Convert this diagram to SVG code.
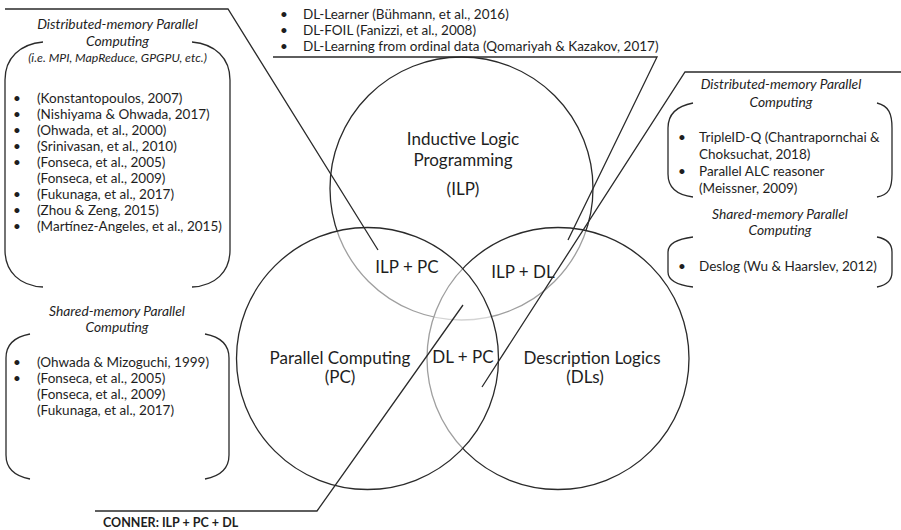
<svg xmlns="http://www.w3.org/2000/svg" width="901" height="530" viewBox="0 0 901 530">
<style>
.c{fill:#fff;fill-opacity:0.55;stroke:#2a2a2a;stroke-width:1.3}
.ln{fill:none;stroke:#2a2a2a;stroke-width:1.3}
.br{fill:none;stroke:#2a2a2a;stroke-width:1.3}
text{font-family:Lato,"Open Sans",sans-serif;fill:#1e1e1e}
.s{font-size:13.5px}
.i{font-style:italic;font-size:13.8px;text-anchor:middle}
.ii{font-style:italic;font-size:12.3px;text-anchor:middle}
.b{font-size:17px;text-anchor:middle}
.bold{font-weight:bold;font-size:12.5px}
</style>
<rect width="901" height="530" fill="#fff"/>
<g id="circles">
<g id="ilp"><circle class="c" cx="461.5" cy="188.5" r="131.5"/></g>
<g id="dl"><circle class="c" cx="558" cy="358.5" r="131"/></g>
<g id="pc"><circle class="c" cx="367.5" cy="358.5" r="131"/></g>
</g>
<g id="circle-labels">
<text class="b" x="463" y="145">Inductive Logic</text>
<text class="b" x="463" y="166">Programming</text>
<text class="b" x="463" y="195">(ILP)</text>
<text class="b" x="407" y="273">ILP + PC</text>
<text class="b" x="523" y="278">ILP + DL</text>
<text class="b" x="340" y="364">Parallel Computing</text>
<text class="b" x="340" y="383">(PC)</text>
<text class="b" x="463" y="363">DL + PC</text>
<text class="b" x="592" y="364">Description Logics</text>
<text class="b" x="585" y="383">(DLs)</text>
</g>
<g id="connectors">
<polyline class="ln" points="5,9 228,9 378,250"/>
<polyline class="ln" points="273,57 657,57 568,240"/>
<polyline class="ln" points="901,72 685,72 482,387"/>
<polyline class="ln" points="95,511 317,511 463,305"/>
</g>
<g id="box-ilp-pc-dist">
<path class="br" d="M43,42 C20,44 5,58 5,80 V250 C5,272 20,286 43,287"/>
<path class="br" d="M192,42 C215,44 230,58 230,80 V250 C230,272 215,286 192,287"/>
<text class="i" x="117.5" y="29">Distributed-memory Parallel</text>
<text class="i" x="117.5" y="46">Computing</text>
<text class="ii" x="117.5" y="62">(i.e. MPI, MapReduce, GPGPU, etc.)</text>
<g class="s">
<text x="13" y="103">•</text><text x="37" y="103">(Konstantopoulos, 2007)</text>
<text x="13" y="119">•</text><text x="37" y="119">(Nishiyama &amp; Ohwada, 2017)</text>
<text x="13" y="135">•</text><text x="37" y="135">(Ohwada, et al., 2000)</text>
<text x="13" y="151">•</text><text x="37" y="151">(Srinivasan, et al., 2010)</text>
<text x="13" y="167">•</text><text x="37" y="167">(Fonseca, et al., 2005)</text>
<text x="37" y="183">(Fonseca, et al., 2009)</text>
<text x="13" y="199">•</text><text x="37" y="199">(Fukunaga, et al., 2017)</text>
<text x="13" y="215">•</text><text x="37" y="215">(Zhou &amp; Zeng, 2015)</text>
<text x="13" y="231">•</text><text x="37" y="231">(Martínez-Angeles, et al., 2015)</text>
</g>
</g>
<g id="box-ilp-pc-shared">
<path class="br" d="M30,334 C14,337 6,345 6,358 V455 C6,468 14,476 30,479"/>
<path class="br" d="M205,334 C221,337 229,345 229,358 V455 C229,468 221,476 205,479"/>
<text class="i" x="117" y="316">Shared-memory Parallel</text>
<text class="i" x="117" y="332">Computing</text>
<g class="s">
<text x="13" y="367">•</text><text x="37" y="367">(Ohwada &amp; Mizoguchi, 1999)</text>
<text x="13" y="383">•</text><text x="37" y="383">(Fonseca, et al., 2005)</text>
<text x="37" y="399">(Fonseca, et al., 2009)</text>
<text x="37" y="415">(Fukunaga, et al., 2017)</text>
</g>
</g>
<g id="box-ilp-dl" class="s">
<text x="280" y="19">•</text><text x="303" y="19">DL-Learner (Bühmann, et al., 2016)</text>
<text x="280" y="35">•</text><text x="303" y="35">DL-FOIL (Fanizzi, et al., 2008)</text>
<text x="280" y="51">•</text><text x="303" y="51">DL-Learning from ordinal data (Qomariyah &amp; Kazakov, 2017)</text>
</g>
<g id="box-dl-pc-dist">
<path class="br" d="M693,103 C677,106 668,114 668,128 V174 C668,188 677,195 693,197"/>
<path class="br" d="M877,103 C889,106 892,114 892,128 V174 C892,188 889,195 877,197"/>
<text class="i" x="781" y="89">Distributed-memory Parallel</text>
<text class="i" x="781" y="107">Computing</text>
<g class="s">
<text x="678" y="142">•</text><text x="699" y="142">TripleID-Q (Chantrapornchai &amp;</text>
<text x="699" y="159">Choksuchat, 2018)</text>
<text x="678" y="176">•</text><text x="699" y="176">Parallel ALC reasoner</text>
<text x="699" y="193">(Meissner, 2009)</text>
</g>
</g>
<g id="box-dl-pc-shared">
<path class="br" d="M693,237 C677,239 668,244 668,252 V272 C668,280 677,285 693,287"/>
<path class="br" d="M877,237 C888,239 892,244 892,252 V272 C892,280 888,285 877,287"/>
<text class="i" x="780" y="219">Shared-memory Parallel</text>
<text class="i" x="780" y="235">Computing</text>
<text class="s" x="678" y="271">•</text><text class="s" x="699" y="271">Deslog (Wu &amp; Haarslev, 2012)</text>
</g>
<g id="conner">
<text class="bold" x="103" y="527">CONNER: ILP + PC + DL</text>
</g>
</svg>
